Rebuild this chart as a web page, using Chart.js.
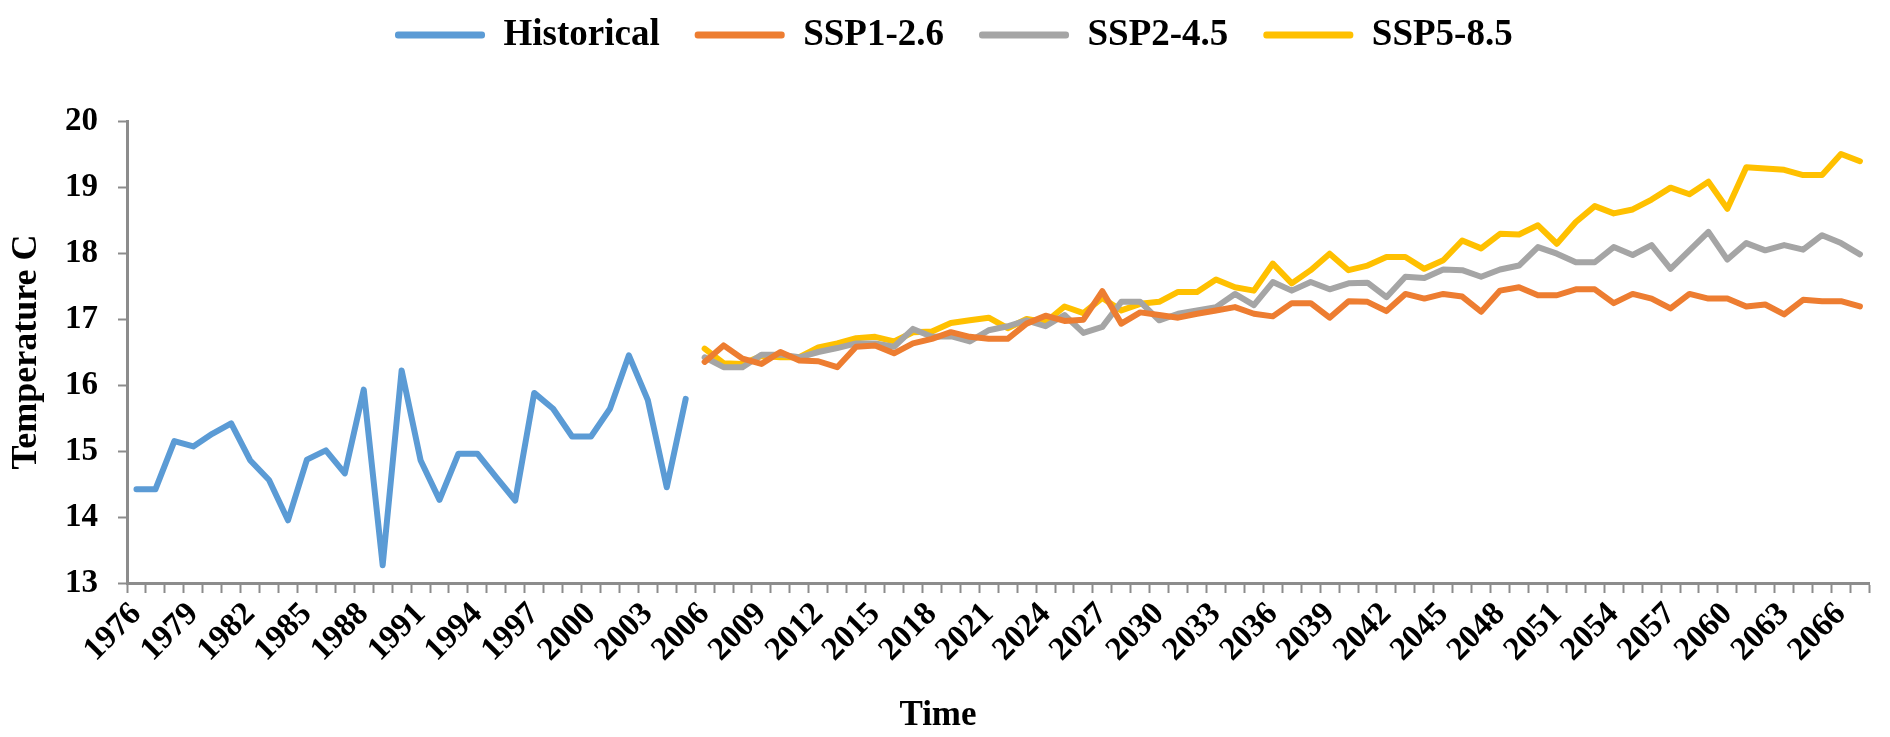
<!DOCTYPE html>
<html>
<head>
<meta charset="utf-8">
<script src="https://cdn.jsdelivr.net/npm/chart.js@4.4.1/dist/chart.umd.min.js"></script>
<style>
	body { margin: 0; background: #fff; }
	#wrap { width: 1890px; height: 737px; }
</style>
</head>
<body>
<div id="wrap"><canvas id="myChart" width="1890" height="737"></canvas></div>
<script>
/* globals Chart:false */
let years = [
	'1976', '1977', '1978', '1979', '1980', '1981', '1982', '1983', '1984', '1985',
	'1986', '1987', '1988', '1989', '1990', '1991', '1992', '1993', '1994', '1995',
	'1996', '1997', '1998', '1999', '2000', '2001', '2002', '2003', '2004', '2005',
	'2006', '2007', '2008', '2009', '2010', '2011', '2012', '2013', '2014', '2015',
	'2016', '2017', '2018', '2019', '2020', '2021', '2022', '2023', '2024', '2025',
	'2026', '2027', '2028', '2029', '2030', '2031', '2032', '2033', '2034', '2035',
	'2036', '2037', '2038', '2039', '2040', '2041', '2042', '2043', '2044', '2045',
	'2046', '2047', '2048', '2049', '2050', '2051', '2052', '2053', '2054', '2055',
	'2056', '2057', '2058', '2059', '2060', '2061', '2062', '2063', '2064', '2065',
	'2066', '2067'
];

// 1976-2005
let historical = [
	14.42, 14.42, 15.15, 15.07, 15.26, 15.42, 14.86, 14.56, 13.95, 14.87,
	15.01, 14.66, 15.93, 13.27, 16.22, 14.86, 14.26, 14.96, 14.96, 14.60,
	14.25, 15.88, 15.64, 15.22, 15.22, 15.64, 16.45, 15.77, 14.45, 15.79
];

// 2006-2067
let ssp126 = [
	16.35, 16.60, 16.40, 16.32, 16.50, 16.37, 16.36, 16.27, 16.58, 16.60,
	16.48, 16.63, 16.70, 16.80, 16.73, 16.70, 16.70, 16.93, 17.05, 16.97,
	16.99, 17.42, 16.93, 17.10, 17.06, 17.02, 17.08, 17.13, 17.18, 17.08,
	17.04, 17.24, 17.24, 17.02, 17.27, 17.26, 17.12, 17.38, 17.31, 17.38,
	17.34, 17.11, 17.43, 17.48, 17.36, 17.36, 17.45, 17.45, 17.24, 17.38,
	17.31, 17.16, 17.38, 17.31, 17.31, 17.19, 17.22, 17.07, 17.29, 17.27,
	17.27, 17.19
];
let ssp245 = [
	16.42, 16.27, 16.27, 16.46, 16.46, 16.42, 16.50, 16.56, 16.63, 16.63,
	16.58, 16.85, 16.73, 16.74, 16.66, 16.83, 16.89, 16.98, 16.89, 17.06,
	16.79, 16.88, 17.26, 17.26, 16.98, 17.08, 17.13, 17.18, 17.38, 17.21,
	17.56, 17.43, 17.56, 17.45, 17.54, 17.55, 17.33, 17.64, 17.62, 17.75,
	17.74, 17.64, 17.75, 17.81, 18.09, 17.99, 17.86, 17.86, 18.09, 17.97,
	18.12, 17.76, 18.04, 18.32, 17.90, 18.15, 18.04, 18.12, 18.05, 18.27,
	18.15, 17.98
];
let ssp585 = [
	16.55, 16.33, 16.32, 16.44, 16.42, 16.42, 16.57, 16.63, 16.71, 16.73,
	16.66, 16.80, 16.81, 16.94, 16.98, 17.02, 16.86, 17.00, 16.95, 17.19,
	17.09, 17.32, 17.13, 17.23, 17.26, 17.41, 17.41, 17.60, 17.48, 17.43,
	17.84, 17.54, 17.74, 17.99, 17.74, 17.81, 17.94, 17.94, 17.76, 17.89,
	18.19, 18.07, 18.29, 18.28, 18.42, 18.14, 18.47, 18.71, 18.60, 18.66,
	18.81, 18.99, 18.89, 19.08, 18.67, 19.30, 19.28, 19.26, 19.18, 19.18,
	19.50, 19.39
];

let seriesNames = ['Historical', 'SSP1-2.6', 'SSP2-4.5', 'SSP5-8.5'];
let seriesColors = ['#5B9BD5', '#ED7D31', '#A5A5A5', '#FFC000'];

const FONT = "'Liberation Serif', 'Times New Roman', serif";
const AXIS_GREY = '#8c8c8c';
const LEGEND_PAD = 35;

function padHistory(vals) {
	return vals.concat(new Array(years.length - vals.length).fill(null));
}
function padFuture(vals) {
	return new Array(years.length - vals.length).fill(null).concat(vals);
}

let allData = [padHistory(historical), padFuture(ssp126), padFuture(ssp245), padFuture(ssp585)];

let chartJson = {
	type: 'line',
	data: {
		labels: years,
		datasets: seriesNames.map((name, i) => ({
			label: name,
			data: allData[i],
			borderColor: seriesColors[i],
			backgroundColor: seriesColors[i],
			borderWidth: 6,
			pointRadius: 0,
			lineTension: 0,
			borderCapStyle: 'round',
			borderJoinStyle: 'round',
			spanGaps: false
		}))
	},
	options: {
		responsive: false,
		animation: false,
		devicePixelRatio: 1,
		layout: { padding: { left: 0, right: 14, top: 0, bottom: 0 } },
		plugins: {
			legend: {
				display: true,
				position: 'top',
				align: 'start',
				labels: {
					boxWidth: 90,
					boxHeight: 7,
					padding: LEGEND_PAD,
					useBorderRadius: true,
					borderRadius: 3,
					color: '#000',
					font: { family: FONT, size: 37, weight: 'bold' },
					generateLabels: (chart) => Chart.defaults.plugins.legend.labels.generateLabels(chart)
						.map((item) => Object.assign(item, { lineWidth: 0 }))
				}
			},
			// x axis title, centred on the whole figure as in the source
			title: {
				display: true,
				text: 'Time',
				position: 'bottom',
				color: '#000',
				padding: { top: 0, bottom: 0 },
				font: { family: FONT, size: 35, weight: 'bold' }
			},
			tooltip: { enabled: false }
		},
		scales: {
			x: {
				type: 'category',
				offset: true,
				grid: {
					display: true,
					offset: true,
					drawOnChartArea: false,
					drawTicks: true,
					tickLength: 10,
					tickWidth: 2,
					tickColor: AXIS_GREY
				},
				border: { display: true, color: AXIS_GREY, width: 3 },
				ticks: {
					autoSkip: false,
					maxRotation: 45,
					minRotation: 45,
					color: '#000',
					padding: 2,
					font: { family: FONT, size: 33, weight: 'bold' },
					callback: function (val, index) {
						return index % 3 === 0 ? this.getLabelForValue(val) : '';
					}
				},
				afterFit: (scale) => { scale.height = 112; }
			},
			y: {
				min: 13,
				max: 20,
				grid: {
					display: true,
					drawOnChartArea: false,
					drawTicks: true,
					tickLength: 9,
					tickWidth: 2,
					tickColor: AXIS_GREY
				},
				border: { display: true, color: AXIS_GREY, width: 3 },
				ticks: {
					stepSize: 1,
					color: '#000',
					padding: 20,
					font: { family: FONT, size: 33, weight: 'bold' }
				},
				title: {
					display: true,
					text: 'Temperature C',
					color: '#000',
					padding: { top: 5, bottom: 2 },
					font: { family: FONT, size: 36, weight: 'bold' }
				},
				afterFit: (scale) => { scale.width = 127; }
			}
		}
	},
	plugins: [{
		id: 'legendSpace',
		beforeInit(chart) {
			const origFit = chart.legend.fit;
			chart.legend.fit = function () {
				origFit.bind(chart.legend)();
				this.height = 121;
			};
		},
		afterLayout(chart) {
			// legend row in the source starts near x=395, centre line at y=35
			const lg = chart.legend;
			lg.left = 395 - LEGEND_PAD;
			lg.right = 1890;
			lg.width = lg.right - lg.left;
			lg.top = 35 - LEGEND_PAD - 37 / 2;
			lg.adjustHitBoxes();
		}
	}]
};

const ctx = document.getElementById('myChart');
// eslint-disable-next-line no-unused-vars
const myChart = new Chart(ctx, chartJson);
</script>
</body>
</html>
